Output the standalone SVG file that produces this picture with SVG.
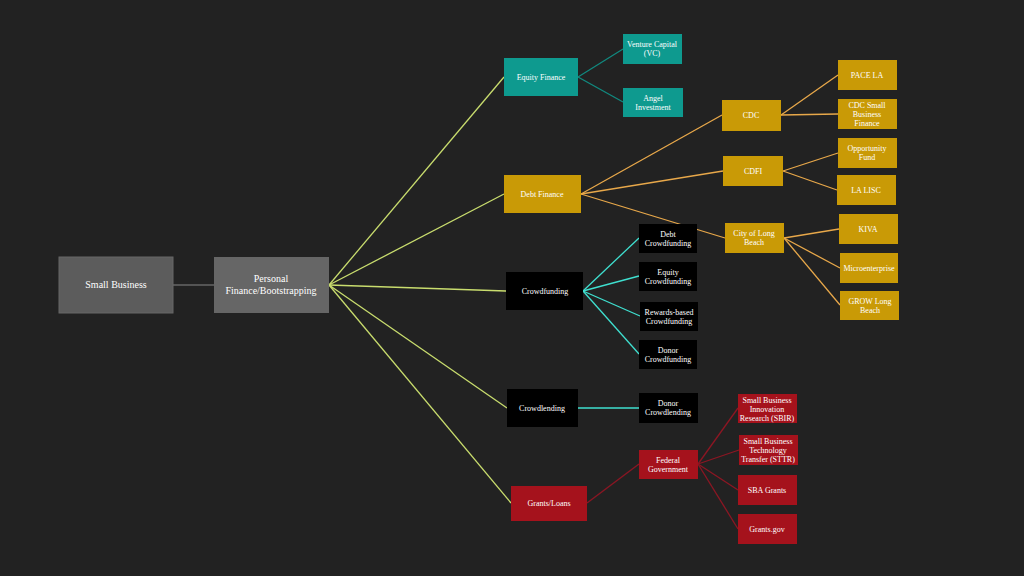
<svg xmlns="http://www.w3.org/2000/svg" width="1024" height="576" viewBox="0 0 1024 576">
<style>
text{font-family:"Liberation Serif",serif;fill:#fff;text-anchor:middle;font-size:8px}
.big{font-size:10px}
.g{fill:#c99a06}.t{fill:#0e9a8f}.k{fill:#000}.r{fill:#a5121c}
.cy{stroke:#c9dd6e}.co{stroke:#e8a84a}.ct{stroke:#11897f}.cc{stroke:#3fe0d0}.cr{stroke:#8c1623}
#connectors line{stroke-width:1.3;fill:none}
</style>
<rect width="1024" height="576" fill="#222"/>
<g id="connectors">
<line x1="173" y1="285" x2="214" y2="285" style="stroke:#666"/>
<line class="cy" x1="329" y1="285" x2="504" y2="77"/>
<line class="cy" x1="329" y1="285" x2="504" y2="194"/>
<line class="cy" x1="329" y1="285" x2="506" y2="291"/>
<line class="cy" x1="329" y1="285" x2="507" y2="408"/>
<line class="cy" x1="329" y1="285" x2="511" y2="503"/>
<line class="ct" x1="578" y1="77" x2="623" y2="49"/>
<line class="ct" x1="578" y1="77" x2="623" y2="102"/>
<line class="co" x1="581" y1="194" x2="722" y2="115"/>
<line class="co" x1="581" y1="194" x2="723" y2="171"/>
<line class="co" x1="581" y1="194" x2="725" y2="238"/>
<line class="co" x1="781" y1="115" x2="838" y2="75"/>
<line class="co" x1="781" y1="115" x2="838" y2="114"/>
<line class="co" x1="783" y1="171" x2="838" y2="153"/>
<line class="co" x1="783" y1="171" x2="837" y2="190"/>
<line class="co" x1="784" y1="238" x2="839" y2="229"/>
<line class="co" x1="784" y1="238" x2="840" y2="268"/>
<line class="co" x1="784" y1="238" x2="840" y2="305"/>
<line class="cc" x1="583" y1="291" x2="639" y2="238"/>
<line class="cc" x1="583" y1="291" x2="639" y2="276"/>
<line class="cc" x1="583" y1="291" x2="640" y2="316"/>
<line class="cc" x1="583" y1="291" x2="639" y2="354"/>
<line class="cc" x1="578" y1="408" x2="639" y2="408"/>
<line class="cr" x1="587" y1="503" x2="639" y2="464"/>
<line class="cr" x1="698" y1="464" x2="738" y2="408"/>
<line class="cr" x1="698" y1="464" x2="739" y2="450"/>
<line class="cr" x1="698" y1="464" x2="738" y2="490"/>
<line class="cr" x1="698" y1="464" x2="738" y2="529"/>
</g>
<g id="small-business"><rect x="59" y="257" width="114" height="56" fill="#5c5c5c" stroke="#666"/><text class="big" x="116" y="288">Small Business</text></g>
<g id="personal"><rect x="214" y="257" width="115" height="56" fill="#666"/><text class="big" x="271" y="282">Personal</text><text class="big" x="271" y="294">Finance/Bootstrapping</text></g>
<g id="equity"><rect class="t" x="504" y="58" width="74" height="38"/><text x="541" y="80">Equity Finance</text></g>
<g id="vc"><rect class="t" x="623" y="34" width="59" height="30"/><text x="652" y="47">Venture Capital</text><text x="652" y="56">(VC)</text></g>
<g id="angel"><rect class="t" x="623" y="88" width="60" height="29"/><text x="653" y="101">Angel</text><text x="653" y="110">Investment</text></g>
<g id="debt"><rect class="g" x="504" y="175" width="77" height="38"/><text x="542" y="197">Debt Finance</text></g>
<g id="cdc"><rect class="g" x="722" y="100" width="59" height="31"/><text x="751" y="118">CDC</text></g>
<g id="cdfi"><rect class="g" x="723" y="156" width="60" height="30"/><text x="753" y="174">CDFI</text></g>
<g id="clb"><rect class="g" x="725" y="223" width="59" height="30"/><text x="754" y="236">City of Long</text><text x="754" y="245">Beach</text></g>
<g id="pace"><rect class="g" x="838" y="60" width="59" height="30"/><text x="867" y="78">PACE LA</text></g>
<g id="cdcsbf"><rect class="g" x="838" y="99" width="59" height="30"/><text x="867" y="108">CDC Small</text><text x="867" y="117">Business</text><text x="867" y="126">Finance</text></g>
<g id="opp"><rect class="g" x="838" y="138" width="59" height="30"/><text x="867" y="151">Opportunity</text><text x="867" y="160">Fund</text></g>
<g id="lalisc"><rect class="g" x="837" y="175" width="59" height="30"/><text x="866" y="193">LA LISC</text></g>
<g id="kiva"><rect class="g" x="839" y="214" width="59" height="30"/><text x="868" y="232">KIVA</text></g>
<g id="micro"><rect class="g" x="840" y="253" width="58" height="30"/><text x="869" y="271">Microenterprise</text></g>
<g id="grow"><rect class="g" x="840" y="291" width="59" height="29"/><text x="870" y="304">GROW Long</text><text x="870" y="313">Beach</text></g>
<g id="crowdfunding"><rect class="k" x="506" y="272" width="77" height="38"/><text x="545" y="294">Crowdfunding</text></g>
<g id="debtcf"><rect class="k" x="639" y="224" width="58" height="29"/><text x="668" y="237">Debt</text><text x="668" y="246">Crowdfunding</text></g>
<g id="equitycf"><rect class="k" x="639" y="262" width="58" height="29"/><text x="668" y="275">Equity</text><text x="668" y="284">Crowdfunding</text></g>
<g id="rewards"><rect class="k" x="640" y="302" width="58" height="29"/><text x="669" y="315">Rewards-based</text><text x="669" y="324">Crowdfunding</text></g>
<g id="donorcf"><rect class="k" x="639" y="340" width="58" height="29"/><text x="668" y="353">Donor</text><text x="668" y="362">Crowdfunding</text></g>
<g id="crowdlending"><rect class="k" x="507" y="389" width="71" height="38"/><text x="542" y="411">Crowdlending</text></g>
<g id="donorcl"><rect class="k" x="639" y="393" width="59" height="30"/><text x="668" y="406">Donor</text><text x="668" y="415">Crowdlending</text></g>
<g id="grants"><rect class="r" x="511" y="486" width="76" height="35"/><text x="549" y="506">Grants/Loans</text></g>
<g id="federal"><rect class="r" x="639" y="450" width="59" height="29"/><text x="668" y="463">Federal</text><text x="668" y="472">Government</text></g>
<g id="sbir"><rect class="r" x="738" y="394" width="59" height="29"/><text x="767" y="403">Small Business</text><text x="767" y="412">Innovation</text><text x="767" y="421">Research (SBIR)</text></g>
<g id="sttr"><rect class="r" x="739" y="435" width="59" height="30"/><text x="768" y="444">Small Business</text><text x="768" y="453">Technology</text><text x="768" y="462">Transfer (STTR)</text></g>
<g id="sba"><rect class="r" x="738" y="475" width="59" height="30"/><text x="767" y="493">SBA Grants</text></g>
<g id="grantsgov"><rect class="r" x="738" y="514" width="59" height="30"/><text x="767" y="532">Grants.gov</text></g>
</svg>
